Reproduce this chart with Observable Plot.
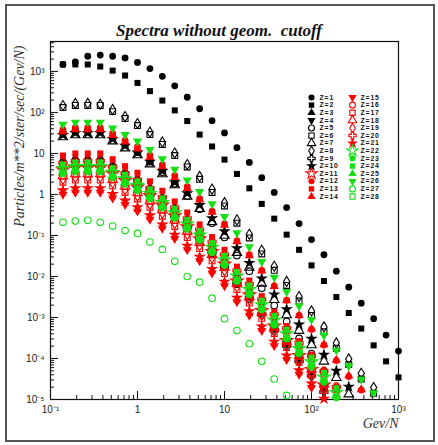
<!DOCTYPE html>
<html><head><meta charset="utf-8">
<script src="https://cdn.jsdelivr.net/npm/d3@7"></script>
<script src="https://cdn.jsdelivr.net/npm/@observablehq/plot@0.6"></script>
<style>
html,body{margin:0;padding:0;background:#fff;}
#wrap{position:relative;width:438px;height:445px;overflow:hidden;background:#fff;}
#border{position:absolute;left:5px;top:4px;width:426px;height:434px;border:2px solid #555;}
#chart{position:absolute;left:0;top:0;}
#legend{position:absolute;left:295px;top:90px;}
#title{position:absolute;left:0;width:438px;top:21px;line-height:20px;text-align:center;font:italic bold 17px "Liberation Serif","DejaVu Serif",serif;color:#111;white-space:pre;}
</style></head><body>
<div id="wrap"><div id="border"></div><div id="chart"></div><div id="legend"></div><div id="title">Spectra without geom.  cutoff</div></div>
<script>
// energy per nucleon (GeV/N) of the sampled points
const energy = [0.139,0.193,0.268,0.373,0.518,0.720,1.00,1.39,1.93,2.68,3.73,5.18,7.20,10.0,13.9,19.3,26.8,37.3,51.8,72.0,100,139,193,268,373,518,720,1000];

// log10 of flux (Particles/m**2/ster/sec/(GeV/N)) for each charge Z
const logZ1  = [3.17,3.23,3.37,3.40,3.37,3.33,3.22,3.07,2.88,2.65,2.37,2.09,1.80,1.50,1.14,0.78,0.41,0.05,-0.32,-0.71,-1.10,-1.47,-1.87,-2.26,-2.65,-3.03,-3.43,-3.82];
const logZ2  = [3.17,3.17,3.17,3.12,3.02,2.90,2.72,2.52,2.29,2.05,1.79,1.46,1.17,0.85,0.50,0.15,-0.23,-0.59,-0.98,-1.35,-1.73,-2.11,-2.50,-2.89,-3.27,-3.68,-4.07,-4.46];
const logZ3  = [0.85,0.90,0.90,0.90,0.75,0.58,0.41,0.19,-0.05,-0.32,-0.60,-0.90,-1.22,-1.55,-1.97,-2.33,-2.72,-3.12,-3.49,-3.87,-4.22,-4.62,-5.02];
const logZ4  = [0.70,0.75,0.75,0.75,0.60,0.43,0.26,0.04,-0.20,-0.47,-0.75,-1.05,-1.37,-1.70,-2.12,-2.48,-2.87,-3.27,-3.64,-4.02,-4.37,-4.77,-5.17];
const logZ5  = [1.50,1.55,1.55,1.55,1.39,1.21,1.03,0.80,0.54,0.26,-0.04,-0.36,-0.70,-1.05,-1.49,-1.87,-2.29,-2.71,-3.10,-3.51,-3.88,-4.30,-4.73,-5.15];
const logZ6  = [2.12,2.17,2.17,2.17,2.02,1.85,1.68,1.46,1.22,0.95,0.67,0.37,0.05,-0.28,-0.70,-1.06,-1.45,-1.85,-2.22,-2.60,-2.95,-3.35,-3.75,-4.15,-4.50,-4.85,-5.20];
const logZ7  = [1.40,1.45,1.45,1.45,1.30,1.13,0.96,0.74,0.50,0.23,-0.05,-0.35,-0.67,-1.00,-1.42,-1.78,-2.17,-2.57,-2.94,-3.32,-3.67,-4.07,-4.47,-4.87,-5.22];
const logZ8  = [2.17,2.22,2.22,2.20,2.07,1.90,1.73,1.52,1.28,1.01,0.73,0.44,0.13,-0.20,-0.62,-0.97,-1.36,-1.75,-2.12,-2.49,-2.84,-3.23,-3.62,-4.01,-4.36,-4.71,-5.06];
const logZ9  = [0.65,0.70,0.70,0.70,0.55,0.38,0.21,-0.01,-0.25,-0.52,-0.80,-1.10,-1.42,-1.75,-2.17,-2.53,-2.92,-3.32,-3.69,-4.07,-4.42,-4.82,-5.22];
const logZ10 = [1.45,1.50,1.50,1.50,1.35,1.19,1.02,0.80,0.57,0.30,0.03,-0.26,-0.58,-0.90,-1.31,-1.67,-2.05,-2.44,-2.80,-3.17,-3.52,-3.91,-4.30,-4.69,-5.04];
const logZ11 = [0.60,0.65,0.65,0.65,0.51,0.34,0.18,-0.03,-0.26,-0.52,-0.79,-1.08,-1.39,-1.70,-2.11,-2.45,-2.83,-3.21,-3.56,-3.93,-4.27,-4.65,-5.03];
const logZ12 = [1.58,1.63,1.63,1.63,1.49,1.32,1.16,0.95,0.72,0.46,0.19,-0.10,-0.41,-0.72,-1.13,-1.47,-1.85,-2.23,-2.58,-2.95,-3.29,-3.67,-4.05,-4.44,-4.77,-5.11];
const logZ13 = [0.95,1.00,1.00,1.00,0.86,0.69,0.53,0.32,0.09,-0.17,-0.44,-0.73,-1.04,-1.35,-1.76,-2.10,-2.48,-2.86,-3.21,-3.58,-3.92,-4.30,-4.68,-5.07];
const logZ14 = [1.53,1.58,1.58,1.58,1.44,1.28,1.11,0.91,0.68,0.42,0.15,-0.13,-0.43,-0.75,-1.15,-1.49,-1.86,-2.24,-2.59,-2.95,-3.28,-3.66,-4.04,-4.42,-4.76,-5.10];
const logZ15 = [0.00,0.05,0.05,0.05,-0.09,-0.25,-0.41,-0.61,-0.83,-1.08,-1.35,-1.62,-1.92,-2.23,-2.62,-2.95,-3.32,-3.69,-4.03,-4.39,-4.71,-5.08];
const logZ16 = [0.70,0.75,0.75,0.75,0.61,0.45,0.29,0.09,-0.13,-0.38,-0.65,-0.92,-1.22,-1.53,-1.92,-2.25,-2.62,-2.99,-3.33,-3.69,-4.01,-4.38,-4.76,-5.13];
const logZ17 = [0.30,0.35,0.35,0.35,0.21,0.05,-0.11,-0.31,-0.53,-0.78,-1.05,-1.32,-1.62,-1.93,-2.32,-2.65,-3.02,-3.39,-3.73,-4.09,-4.41,-4.78,-5.16];
const logZ18 = [0.45,0.50,0.50,0.50,0.36,0.20,0.04,-0.16,-0.38,-0.63,-0.90,-1.17,-1.47,-1.78,-2.17,-2.50,-2.87,-3.24,-3.58,-3.94,-4.26,-4.63,-5.01];
const logZ19 = [0.37,0.42,0.42,0.42,0.28,0.12,-0.04,-0.24,-0.46,-0.71,-0.98,-1.25,-1.55,-1.86,-2.25,-2.58,-2.95,-3.32,-3.66,-4.02,-4.34,-4.71,-5.09];
const logZ20 = [0.77,0.82,0.82,0.82,0.68,0.52,0.36,0.16,-0.06,-0.31,-0.58,-0.85,-1.15,-1.46,-1.85,-2.18,-2.55,-2.92,-3.26,-3.62,-3.94,-4.31,-4.69,-5.06];
const logZ21 = [0.10,0.15,0.15,0.15,0.01,-0.15,-0.31,-0.51,-0.73,-0.98,-1.25,-1.52,-1.82,-2.13,-2.52,-2.85,-3.22,-3.59,-3.93,-4.29,-4.61,-4.98,-5.36];
const logZ22 = [0.63,0.68,0.68,0.68,0.54,0.38,0.22,0.02,-0.20,-0.45,-0.72,-0.99,-1.29,-1.60,-1.99,-2.32,-2.69,-3.06,-3.40,-3.76,-4.08,-4.45,-4.83,-5.20];
const logZ23 = [0.50,0.55,0.55,0.55,0.41,0.25,0.09,-0.11,-0.33,-0.58,-0.85,-1.12,-1.42,-1.73,-2.12,-2.45,-2.82,-3.19,-3.53,-3.89,-4.21,-4.58,-4.96];
const logZ24 = [0.73,0.78,0.78,0.78,0.64,0.48,0.32,0.12,-0.10,-0.35,-0.62,-0.89,-1.19,-1.50,-1.89,-2.22,-2.59,-2.96,-3.30,-3.66,-3.98,-4.35,-4.73,-5.10];
const logZ25 = [0.55,0.60,0.60,0.60,0.46,0.30,0.14,-0.06,-0.28,-0.53,-0.80,-1.07,-1.37,-1.68,-2.07,-2.40,-2.77,-3.14,-3.48,-3.84,-4.16,-4.53,-4.91];
const logZ26 = [1.71,1.76,1.76,1.76,1.62,1.46,1.30,1.09,0.87,0.61,0.35,0.07,-0.23,-0.54,-0.94,-1.28,-1.64,-2.02,-2.37,-2.72,-3.05,-3.43,-3.80,-4.18,-4.51,-4.84,-5.20];
const logZ27 = [-0.68,-0.65,-0.63,-0.68,-0.77,-0.88,-0.95,-1.16,-1.34,-1.63,-2.00,-2.14,-2.53,-3.03,-3.32,-3.64,-4.07,-4.50,-4.90];
const logZ28 = [0.60,0.65,0.65,0.65,0.51,0.35,0.19,-0.01,-0.23,-0.48,-0.75,-1.02,-1.32,-1.63,-2.02,-2.35,-2.72,-3.09,-3.43,-3.79,-4.11,-4.48,-4.86,-5.23];

const zLabels = ["Z=1","Z=2","Z=3","Z=4","Z=5","Z=6","Z=7","Z=8","Z=9","Z=10","Z=11","Z=12","Z=13","Z=14",
                 "Z=15","Z=16","Z=17","Z=18","Z=19","Z=20","Z=21","Z=22","Z=23","Z=24","Z=25","Z=26","Z=27","Z=28"];
const markerShapes = ["circle","square","triangle","triangleDown","circleOpen","squareOpen","triangleOpen","diamondOpen","crossOpen","star",
                      "starOpen","circle","square","triangle","triangleDown","circleOpen","squareOpen","triangleOpen","diamondOpen","crossOpen","star",
                      "starOpen","circle","square","triangle","triangleDown","circleOpen","squareOpen"];
const markerColors = ["black","black","black","black","black","black","black","black","black","black",
                      "red","red","red","red","red","red","red","red","red","red","red",
                      "green","green","green","green","green","green","green"];

const xTicks = [0.1, 1, 10, 100, 1000];
const xTickLabels = ["10\u207B\u00B9","1","10","10\u00B2","10\u00B3"];
const yTicks = [1e-5,1e-4,1e-3,1e-2,1e-1,1,10,100,1000];
const yTickLabels = ["10\u207B\u2075","10\u207B\u2074","10\u207B\u00B3","10\u207B\u00B2","10\u207B\u00B9","1","10","10\u00B2","10\u00B3"];

const allSeries = [logZ1,logZ2,logZ3,logZ4,logZ5,logZ6,logZ7,logZ8,logZ9,logZ10,logZ11,logZ12,logZ13,logZ14,
                   logZ15,logZ16,logZ17,logZ18,logZ19,logZ20,logZ21,logZ22,logZ23,logZ24,logZ25,logZ26,logZ27,logZ28];

// ---------- styling ----------
const colorHex = {black:"#000000", red:"#ff0000", green:"#14e014"};
const sqrt3 = Math.sqrt(3);
const symbolTriangleDown = {draw(ctx, size){ const y = -Math.sqrt(size/(sqrt3*3)); ctx.moveTo(0,-2*y); ctx.lineTo(-sqrt3*y, y); ctx.lineTo(sqrt3*y, y); ctx.closePath(); }};
const symbolDiamondRoot = {draw(ctx, size){ const h = Math.sqrt(size)*0.95, w = h*0.62; ctx.moveTo(0,-h); ctx.lineTo(w,0); ctx.lineTo(0,h); ctx.lineTo(-w,0); ctx.closePath(); }};
const shapeDefs = {
  circle:{sym:d3.symbolCircle, filled:true, r:3.4},
  square:{sym:d3.symbolSquare, filled:true, r:3.4},
  triangle:{sym:d3.symbolTriangle, filled:true, r:3.4},
  triangleDown:{sym:symbolTriangleDown, filled:true, r:3.4},
  circleOpen:{sym:d3.symbolCircle, filled:false, r:3.3},
  squareOpen:{sym:d3.symbolSquare, filled:false, r:3.3},
  triangleOpen:{sym:d3.symbolTriangle, filled:false, r:3.5},
  diamondOpen:{sym:symbolDiamondRoot, filled:false, r:3.0},
  crossOpen:{sym:d3.symbolCross, filled:false, r:3.4},
  star:{sym:d3.symbolStar, filled:true, r:3.9},
  starOpen:{sym:d3.symbolStar, filled:false, r:3.9}
};
function dotStyle(k){
  const s = shapeDefs[markerShapes[k]], c = colorHex[markerColors[k]];
  return s.filled ? {symbol:s.sym, r:s.r, fill:c, stroke:"none"}
                  : {symbol:s.sym, r:s.r, fill:"none", stroke:c, strokeWidth:1.1};
}

// layout
const W = 438, H = 445, mL = 50, mR = 40, mT = 41, mB = 46;
const xDom = [0.1, 1000], yDom = [1e-5, Math.pow(10, 3.73)];
const pxDecX = (W - mL - mR) / 4, pxDecY = (H - mT - mB) / 8.73;
const majorLen = 8, minorLen = 4;

const xMinor = [], yMinor = [];
for (const d of [0.1,1,10,100]) for (let k=2;k<10;k++) xMinor.push(d*k);
for (const d of [1e-5,1e-4,1e-3,1e-2,1e-1,1,10,100,1000]) for (let k=2;k<10;k++) if (d*k < yDom[1]) yMinor.push(d*k);

const marks = [];
allSeries.forEach((logs, k) => {
  const pts = logs.map((L,i) => ({x: energy[i], y: Math.pow(10, L)})).filter(d => d.y >= 1e-5);
  marks.push(Plot.dot(pts, {x:"x", y:"y", ...dotStyle(k)}));
});

const chart = Plot.plot({
  width: W, height: H,
  marginLeft: mL, marginRight: mR, marginTop: mT, marginBottom: mB,
  style: {fontFamily: "'Liberation Sans', Arial, sans-serif", fontSize: "10px", background: "transparent", overflow: "visible"},
  x: {type: "log", domain: xDom},
  y: {type: "log", domain: yDom},
  marks: [
    Plot.frame({stroke: "#111", strokeWidth: 1.2}),
    Plot.ruleX(xTicks, {x: d => d, y1: yDom[0], y2: yDom[0]*Math.pow(10, majorLen/pxDecY), stroke: "#111"}),
    Plot.ruleX(xMinor, {x: d => d, y1: yDom[0], y2: yDom[0]*Math.pow(10, minorLen/pxDecY), stroke: "#111"}),
    Plot.ruleY(yTicks, {y: d => d, x1: xDom[0], x2: xDom[0]*Math.pow(10, majorLen/pxDecX), stroke: "#111"}),
    Plot.ruleY(yMinor, {y: d => d, x1: xDom[0], x2: xDom[0]*Math.pow(10, minorLen/pxDecX), stroke: "#111"}),
    Plot.axisX({ticks: xTicks, tickSize: 0, tickPadding: 6, tickFormat: d => xTickLabels[xTicks.indexOf(d)], fill: "#222", label: null}),
    Plot.axisY({ticks: yTicks, tickSize: 0, tickPadding: 6, tickFormat: d => yTickLabels[yTicks.indexOf(d)], fill: "#222", label: null}),
    ...marks,
    Plot.text(["Gev/N"], {frameAnchor: "bottom-right", dy: 28, textAnchor: "end", fontSize: 14, fontStyle: "italic", fontFamily: "'Liberation Serif', serif", fill: "#333"}),
    Plot.text(["Particles/m**2/ster/sec/(Gev/N)"], {frameAnchor: "top-left", dx: -36, dy: 4, rotate: -90, textAnchor: "end", fontSize: 14, fontStyle: "italic", fontFamily: "'Liberation Serif', serif", fill: "#333"})
  ]
});
document.getElementById("chart").appendChild(chart);

// legend
const legendItems = zLabels.map((label, i) => ({label, col: i < 14 ? 0 : 1, row: i % 14, k: i}));
const legendMarks = legendItems.map(d => Plot.dot([d], {x: "col", y: "row", ...dotStyle(d.k), r: dotStyle(d.k).r * 0.9}));
const legend = Plot.plot({
  width: 115, height: 112, margin: 0,
  style: {background: "transparent", overflow: "visible"},
  x: {domain: [0, 1], range: [16, 57], axis: null},
  y: {domain: [0, 13], range: [7, 106], axis: null},
  marks: [
    ...legendMarks,
    Plot.text(legendItems, {x: "col", y: "row", text: "label", dx: 8, textAnchor: "start", fontSize: 6.8, fontWeight: "bold", fontFamily: "'Liberation Sans', Arial, sans-serif", fill: "#111"})
  ]
});
legend.querySelectorAll("text").forEach(t => { t.style.letterSpacing = "0.9px"; });
document.getElementById("legend").appendChild(legend);
</script>
</body></html>
